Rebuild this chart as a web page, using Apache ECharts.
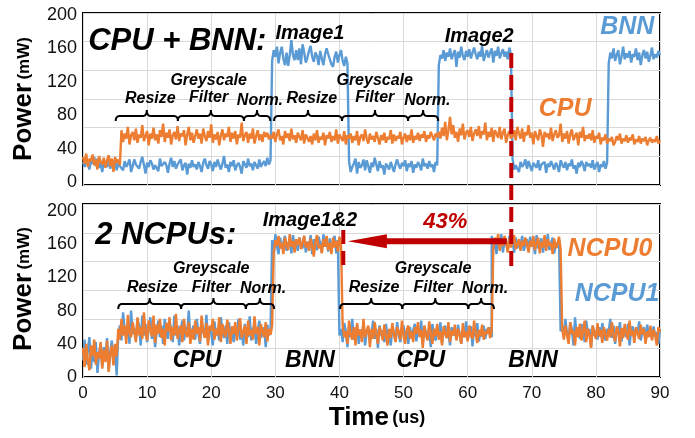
<!DOCTYPE html>
<html><head><meta charset="utf-8">
<script src="https://cdn.jsdelivr.net/npm/echarts@6/dist/echarts.min.js"></script>
<style>html,body{margin:0;padding:0;background:#fff}#c{width:695px;height:438px}</style>
</head><body><div id="c"></div>
<script>
// ---- data: power traces sampled every 0.25 us; each segment starts at the given time ----
const sampleStepUs = 0.25;

// top panel, BNN accelerator (blue)
const topBNN_idleA = [24,18,27,21,15,26,22,30,19,28,17,23,12,25,21,18,29,16,24,20,27,14,22,19];
const topBNN_idleB = [20,14,25,18,22,27,12,19,27,21,19,16,24,30,21,10,23,18,26,22,15,20,22,13,
28,19,17,24,20,11,22,29,18,25,16,21,19,27,14,20,23,9,22,17,26,18,21,15,
24,19,12,23,28,20,16,25,21,13,24,18,27,20,15,22,31,17,21,12,24,19,26,14,
20,23,18,10,25,21,17,28,19,22,14,24,20,16,27,18,22,25,19,29,21,26];
const topBNN_image1 = [145,158,150,162,142,155,162,148,140,155,139,152,170,152,146,158,146,160,141,165,155,143,149,157,
163,150,144,155,151,140,157,148,140,153,160,153,147,141,138,150,156,143,152,158,145,139,150,142];
const topBNN_idleC = [25,12,18,22,28,10,24,17,20,27,14,26,19,11,23,18,29,21,13,25,17,20,9,22,
19,15,24,18,12,21,27,20,16,23,19,26,13,22,18,25,11,21,17,24,20,14,28,19,22,16,25,18,21,12,24,20];
const topBNN_image2 = [140,152,148,158,145,155,150,160,147,153,158,138,156,149,162,151,146,157,150,159,148,155,161,153,
147,156,150,163,145,152,158,149,155,160,143,157,151,162,148,154,159,150,156,147,161,153];
const topBNN_idleD = [28,15,20,22,12,24,18,21,27,16,25,19,13,23,20,17,26,14,21,19,24,11,22,18,
25,20,15,23,19,12,26,21,17,24,14,22,19,27,16,20,10,23,18,25,21,13,24,19,22,17,26,15,20,24,12,21,18,25,16,23];
const topBNN_image3 = [142,155,148,160,145,152,158,141,150,162,147,154,149,157,143,153,150,160,146,155,140,152,158,148,156,144,151,161,147,153,149,157,152];

// top panel, CPU (orange)
const topCPU_idle = [30,22,34,18,28,25,33,20,27,15,31,24,21,29,17,26,32,19,28,12,30,23,27,20];
const topCPU_pre1 = [62,48,58,52,66,45,56,60,50,64,47,57,53,68,49,55,61,44,58,52,65,50,57,46,
62,54,70,48,59,53,63,45,56,60,51,67,49,58,55,62,44,57,66,50,59,47,55,63,
52,58,46,64,55,49,61,53,69,47,57,51,60,44,56,63,50,58,54,66,48,59,52,61,
45,57,53,71,49,56,60,47,58,52,64,46,55,62,50,57,48,60,54,59,51,56];
const topCPU_pre2 = [52,60,48,57,63,50,55,45,61,53,58,49,64,51,56,47,59,54,50,62,46,57,53,48,
55,45,58,50,62,47,54,51,59,44,56,52,60,48,55,50,63,46,57,53,49,61,45,56,
52,58,47,55,50,61,44,54,57,49,63,52,46,58,51,55,48,60,53,45,56,50,59,47,
54,51,62,46,57,49,55,52,60,45,53,58,48,56,50,63,47,55,51,59,49,57,53,61,48,56,52,60,55,50,58,54];
const topCPU_wait = [60,52,65,55,72,50,62,78,57,68,53,60,48,64,56,70,51,59,62,54,66,49,58,63,
55,67,52,61,57,71,50,60,54,65,48,62,58,53,66,51,59,64,47,56,61,52];
const topCPU_tail = [55,62,50,66,58,52,64,48,60,56,68,53,59,45,61,55,50,63,57,42,60,54,58,51,
65,49,57,62,53,56,70,48,58,52,61,46,57,63,50,55,59,44,60,53,66,49,56,52,
58,50,62,47,55,52,59,45,53,50,57,46,52,49,54,44,48,55,50,58,46,52,49,56,
47,53,50,57,45,51,48,55,46,52,49,54,44,50,53,47,51,48,55,46,50];

// bottom panel, NCPU0 (orange)
const ncpu0_idle = [35,12,40,20,8,38,25,45,15,30,22,42,10,33,18,44,6,28,38,14,40,25];
const ncpu0_cpu1 = [58,45,70,50,62,40,75,52,48,66,55,42,72,50,60,46,78,53,44,68,57,49,74,41,
63,52,70,47,58,38,65,55,72,44,60,50,76,46,56,62,42,70,53,48,66,40,58,45,
68,52,60,43,74,55,47,65,38,62,56,70,45,58,50,72,42,64,53,48,69,55,40,61,
52,66,44,58,71,47,55,62,40,68,50,57,45,73,52,60,38,64,55,48,66,43,58,51,62];
const ncpu0_bnn1 = [150,165,158,170,155,162,148,168,160,153,172,157,164,150,166,159,168,154,162,170,156,163,
152,167,158,145,163,171,155,160,149,166,157,170,153,162,148,168,156,164,151,169,158];
const ncpu0_cpu2 = [62,48,55,40,68,52,45,60,38,65,50,57,42,70,48,55,62,36,58,46,66,52,40,60,
54,44,63,50,38,58,47,65,52,42,60,55,45,68,50,40,57,62,46,55,42,60,52,66,
48,57,35,62,50,44,67,53,40,58,49,64,45,55,38,61,52,47,66,42,56,50,63,44,
58,51,40,65,48,55,43,62,50,46,68,53,41,57,49,63,45,55,52,60,47,56];
const ncpu0_bnn2 = [155,168,160,172,152,165,158,170,162,150,167,156,163,171,154,160,166,152,164,158,168,160,
150,164,157,170,153,161,168,149,163,156,171,152,166,158,162,148,167,155,160,169,154];
const ncpu0_tail = [58,45,62,50,40,66,52,56,38,60,48,64,44,55,68,42,58,50,35,62,53,46,65,49,
57,41,60,52,44,58,48,66,50,43,61,55,37,59,47,64,52,45,68,50,56,41,60,53,
46,63,51,58,40,55,48,62,44,57,50,38,60,54];

// bottom panel, NCPU1 (blue)
const ncpu1_idle = [20,45,15,32,48,10,35,18,42,5,28,40,12,36,22,47,8,30,44,16,38,2];
const ncpu1_cpu1 = [50,62,44,78,55,48,66,40,80,52,58,45,70,62,38,74,50,64,42,58,72,46,60,36,
55,68,48,62,40,70,54,46,66,58,42,74,50,62,38,56,68,44,60,52,80,46,55,62,
45,70,52,40,64,57,48,75,43,60,53,38,67,50,58,44,72,55,47,62,40,66,52,58,
42,60,50,70,45,56,38,64,52,48,73,44,58,62,40,55,68,47,53,60,36,63,50,57];
const ncpu1_bnn1 = [165,150,172,158,148,168,155,162,170,152,160,166,149,171,157,163,152,168,160,155,170,150,
163,156,171,148,166,159,153,169,161,150,172,157,164,151,167,155,162,170,149,165];
const ncpu1_cpu2 = [50,58,42,65,55,36,60,48,70,45,52,62,40,57,48,66,38,55,60,44,52,68,46,58,
35,62,50,56,42,64,48,54,38,60,52,45,66,50,42,58,62,48,55,40,60,47,56,64,
43,57,50,68,39,61,53,46,59,36,64,51,44,58,49,66,41,55,62,47,53,38,60,50,
56,45,63,52,40,58,48,67,44,54,61,37,57,50,65,43,55,49,62,46,58,52,60,48];
const ncpu1_bnn2 = [170,155,162,148,168,158,172,150,165,160,153,170,157,164,150,168,155,162,158,170,152,160,
166,151,169,157,163,148,171,155,160,167,150,164,158,172,153,161,168,149,162,156,165];
const ncpu1_tail = [55,62,48,70,52,44,66,58,38,72,50,60,46,64,55,42,68,52,58,36,62,50,56,45,
60,48,65,52,44,58,55,70,47,62,40,57,51,66,43,59,53,48,64,38,56,61,46,58,
52,67,44,55,60,42,63,50,57,46,61,49,54,40,58];

// segment start times (us)
const topBNNStarts = [0, 6, 29.5, 41.5, 55.5, 67, 82];
const topCPUStarts = [0, 6, 29.5, 55.5, 67];
const ncpu0Starts = [0, 5.5, 29.75, 40.5, 64, 74.75];
const ncpu1Starts = [0, 5.5, 29.5, 40, 63.75, 74.5];

const yTicks = [0, 40, 80, 120, 160, 200];

// phase braces [start, end] in us
const topPhases = [[5.1,14.8],[14.8,25.1],[25.1,29.2],[29.8,40.4],[40.4,50.7],[50.7,55.4]];
const botPhases = [[5.5,15.3],[15.3,25.4],[25.4,29.8],[40.1,49.8],[49.8,60.1],[60.1,64.1]];

const BLUE = '#5B9BD5', ORANGE = '#ED7D31', RED = '#C00000', GRIDC = '#D9D9D9';
const FF = '"Liberation Sans", Arial, Helvetica, sans-serif';

function build(starts, segs) {
  const out = [];
  segs.forEach((seg, k) => seg.forEach((v, i) => out.push([starts[k] + i * sampleStepUs, v])));
  return out;
}

const chart = echarts.init(document.getElementById('c'), null, {renderer: 'canvas'});

const L = 83, W = 577;
const frameX = (idx, showLabels) => ({
  gridIndex: idx, type: 'value', min: 0, max: 90, interval: 10,
  axisLine: {show: false}, axisTick: {show: false},
  axisLabel: {show: showLabels, fontSize: 17, color: '#111', fontFamily: FF, margin: 8},
  splitLine: {show: true, lineStyle: {color: GRIDC, width: 1}}
});
const frameY = idx => ({
  gridIndex: idx, type: 'value', min: 0, max: 6, interval: 1,
  axisLine: {show: false}, axisTick: {show: false}, axisLabel: {show: false},
  splitLine: {show: true, lineStyle: {color: GRIDC, width: 1}}
});
const dataX = idx => ({gridIndex: idx, type: 'value', min: 0, max: 90, show: false});
const dataY = idx => ({
  gridIndex: idx, type: 'value', min: 0, max: 200, interval: 40,
  axisLine: {show: false}, axisTick: {show: false}, splitLine: {show: false},
  axisLabel: {show: true, fontSize: 18, color: '#111', fontFamily: FF, margin: 6,
    formatter: v => (yTicks.indexOf(v) >= 0 ? String(v) : '')}
});
const lineS = (name, data, color, idx) => ({
  name, type: 'line', xAxisIndex: idx, yAxisIndex: idx, data,
  showSymbol: false, symbol: 'none', lineStyle: {color, width: 2.4}, itemStyle: {color},
  animation: false, z: 3
});

chart.setOption({
  animation: false,
  backgroundColor: '#fff',
  grid: [
    {left: L, width: W, top: 13, height: 172, show: true, borderColor: '#000', borderWidth: 2, backgroundColor: '#fff'},
    {left: L, width: W, top: 15, height: 167},
    {left: L, width: W, top: 204, height: 173, show: true, borderColor: '#000', borderWidth: 2, backgroundColor: '#fff'},
    {left: L, width: W, top: 211, height: 166}
  ],
  xAxis: [frameX(0, false), dataX(1), frameX(2, true), dataX(3)],
  yAxis: [frameY(0), dataY(1), frameY(2), dataY(3)],
  series: [
    lineS('BNN', build(topBNNStarts, [topBNN_idleA, topBNN_idleB, topBNN_image1, topBNN_idleC, topBNN_image2, topBNN_idleD, topBNN_image3]), BLUE, 1),
    lineS('CPU', build(topCPUStarts, [topCPU_idle, topCPU_pre1, topCPU_pre2, topCPU_wait, topCPU_tail]), ORANGE, 1),
    lineS('NCPU1', build(ncpu1Starts, [ncpu1_idle, ncpu1_cpu1, ncpu1_bnn1, ncpu1_cpu2, ncpu1_bnn2, ncpu1_tail]), BLUE, 3),
    lineS('NCPU0', build(ncpu0Starts, [ncpu0_idle, ncpu0_cpu1, ncpu0_bnn1, ncpu0_cpu2, ncpu0_bnn2, ncpu0_tail]), ORANGE, 3)
  ]
});

// ---- annotations placed in data coordinates ----
const P = (g, t, v) => chart.convertToPixel({gridIndex: g ? 3 : 1}, [t, v]);
const els = [];
function txt(g, t, v, s, size, color, align) {
  const [x, y] = P(g, t, v);
  els.push({type: 'text', x, y, z: 50, silent: true,
    style: {text: s, fill: color || '#000', align: align || 'center', verticalAlign: 'middle',
      font: 'italic bold ' + size + 'px ' + FF}});
}
function quad(p0, c, p1) {
  const out = [];
  for (let i = 1; i <= 6; i++) {
    const u = i / 6, a = (1 - u) * (1 - u), b = 2 * u * (1 - u), d = u * u;
    out.push([a * p0[0] + b * c[0] + d * p1[0], a * p0[1] + b * c[1] + d * p1[1]]);
  }
  return out;
}
function brace(g, t1, t2, v) {
  const [x1, y] = P(g, t1, v); const [x2] = P(g, t2, v);
  const m = (x1 + x2) / 2, h = 5, pk = 6, r = 4;
  const pts = [[x1, y + h]].concat(
    quad([x1, y + h], [x1, y], [x1 + r, y]), [[m - r, y]],
    quad([m - r, y], [m, y], [m, y - pk]), quad([m, y - pk], [m, y], [m + r, y]),
    [[x2 - r, y]], quad([x2 - r, y], [x2, y], [x2, y + h]));
  els.push({type: 'polyline', z: 50, silent: true, shape: {points: pts},
    style: {stroke: '#000', lineWidth: 2, fill: null}});
}
function phaseLabels(g, cols, vR, vG, vF, vN) {
  cols[0].forEach(t => txt(g, t, vR, 'Resize', 16));
  cols[1].forEach(t => { txt(g, t, vG, 'Greyscale', 16); txt(g, t, vF, 'Filter', 16); });
  cols[2].forEach(t => txt(g, t, vN, 'Norm.', 16));
}

// top panel
txt(0, 0.8, 168, 'CPU + BNN:', 31, '#000', 'left');
txt(0, 35.4, 178, 'Image1', 20);
txt(0, 61.8, 174, 'Image2', 20);
txt(0, 84.9, 186, 'BNN', 25, BLUE);
txt(0, 75.2, 87, 'CPU', 25, ORANGE);
topPhases.forEach(p => brace(0, p[0], p[1], 79));
phaseLabels(0, [[10.5, 35.7], [19.6, 45.5], [27.6, 53.7]], 99.5, 122, 100.5, 97);

// bottom panel
txt(1, 1.9, 171, '2 NCPUs:', 31, '#000', 'left');
txt(1, 35.4, 188, 'Image1&2', 20);
txt(1, 56.5, 187, '43%', 22, RED);
txt(1, 82.2, 154, 'NCPU0', 25, ORANGE);
txt(1, 83.3, 100, 'NCPU1', 25, BLUE);
txt(1, 17.8, 19.5, 'CPU', 23); txt(1, 52.7, 19.5, 'CPU', 23);
txt(1, 35.4, 19.5, 'BNN', 23); txt(1, 70.2, 19.5, 'BNN', 23);
botPhases.forEach(p => brace(1, p[0], p[1], 88));
phaseLabels(1, [[10.8, 45.4], [20.0, 54.6], [28.1, 62.7]], 108, 131, 108, 106);

// red dashed markers and speed-up arrow
{
  const a = P(0, 66.8, 154.5), b = P(1, 66.8, 129);
  els.push({type: 'line', z: 60, silent: true, shape: {x1: a[0], y1: a[1], x2: b[0], y2: b[1]},
    style: {stroke: RED, lineWidth: 4, lineDash: [15, 7]}});
  const c = P(1, 40.6, 177), d = P(1, 40.6, 126.5);
  els.push({type: 'line', z: 60, silent: true, shape: {x1: c[0], y1: c[1], x2: d[0], y2: d[1]},
    style: {stroke: RED, lineWidth: 4, lineDash: [14, 7]}});
  const tip = P(1, 41.3, 163.5), base = P(1, 47.4, 163.5), end = P(1, 66.1, 163.5);
  els.push({type: 'line', z: 55, silent: true, shape: {x1: base[0] - 1, y1: base[1], x2: end[0], y2: end[1]},
    style: {stroke: RED, lineWidth: 6}});
  els.push({type: 'polygon', z: 55, silent: true,
    shape: {points: [[tip[0], tip[1]], [base[0], base[1] - 7], [base[0], base[1] + 7]]},
    style: {fill: RED}});
}

// axis titles
const powerTitle = y => ({type: 'text', x: 24, y, rotation: Math.PI / 2, z: 50, silent: true,
  style: {text: '{a|Power} {b|(mW)}', align: 'center', verticalAlign: 'middle',
    rich: {a: {font: 'bold 26px ' + FF, fill: '#000'}, b: {font: 'bold 17px ' + FF, fill: '#000'}}}});
els.push(powerTitle(99), powerTitle(289));
els.push({type: 'text', x: 377, y: 418, z: 50, silent: true,
  style: {text: '{a|Time} {b|(us)}', align: 'center', verticalAlign: 'middle',
    rich: {a: {font: 'bold 26px ' + FF, fill: '#000'}, b: {font: 'bold 18px ' + FF, fill: '#000'}}}});

chart.setOption({graphic: els});
</script></body></html>
